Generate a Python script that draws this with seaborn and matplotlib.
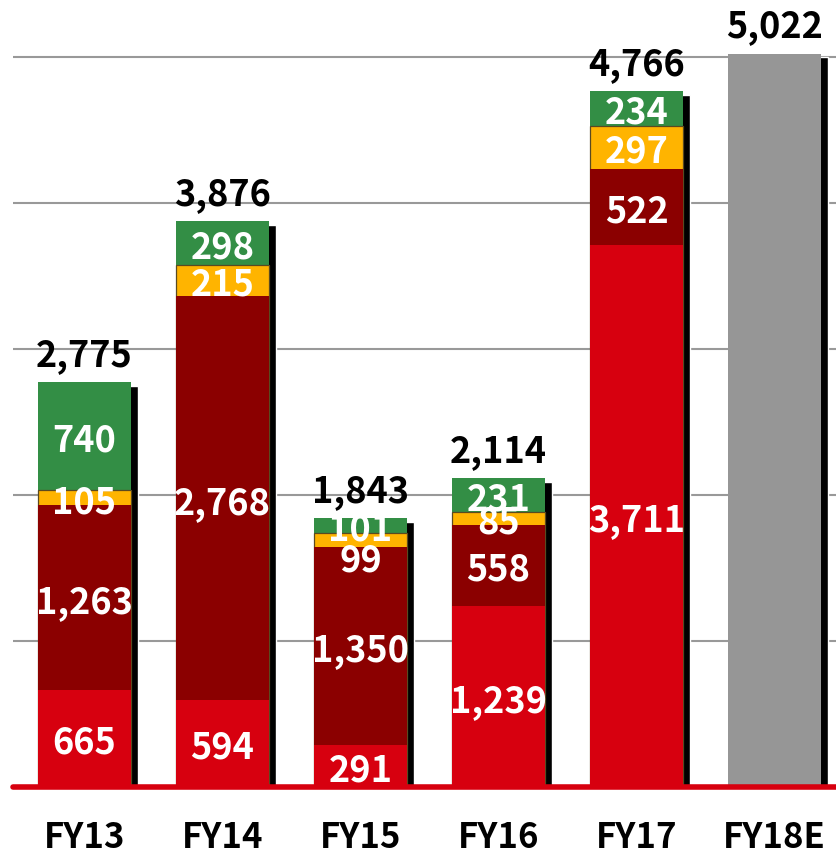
import numpy as np
import pandas as pd
import matplotlib
matplotlib.use('Agg')
import matplotlib.pyplot as plt
import seaborn as sns

# Values
years = ['FY13', 'FY14', 'FY15', 'FY16', 'FY17', 'FY18E']
seg_red = [665, 594, 291, 1239, 3711]
seg_darkred = [1263, 2768, 1350, 558, 522]
seg_orange = [105, 215, 99, 85, 297]
seg_green = [740, 298, 101, 231, 234]
totals = [2775, 3876, 1843, 2114, 4766, 5022]

colors = {'red': '#D7000F', 'darkred': '#8B0000', 'orange': '#FFB400',
          'green': '#338E45', 'gray': '#969696'}

sns.set_style('white')
plt.rcParams['font.family'] = ['Noto Sans CJK JP', 'DejaVu Sans']

df = pd.DataFrame({'year': years[:5], 'red': seg_red, 'darkred': seg_darkred,
                   'orange': seg_orange, 'green': seg_green})
df['c1'] = df['red']
df['c2'] = df['c1'] + df['darkred']
df['c3'] = df['c2'] + df['orange']
df['c4'] = df['c3'] + df['green']
tops = list(df['c4']) + [totals[5]]

fig = plt.figure(figsize=(8.37, 8.57), dpi=100)
ax = fig.add_axes([13 / 837, 70 / 857, 824 / 837, 787 / 857])

bw = 0.67
x = np.arange(len(years))
# black shadow behind each column
ax.bar(x + 0.055, np.array(tops) - 25, width=bw, color='black', zorder=1)

# stacked layers drawn as cumulative bars, tallest first
sns.barplot(data=df, x='year', y='c4', order=years, color=colors['green'], width=bw,
            saturation=1, linewidth=0, zorder=2, ax=ax)
sns.barplot(data=df, x='year', y='c3', order=years, color=colors['orange'], width=bw,
            saturation=1, linewidth=0.9, edgecolor='#5a4a20', zorder=2, ax=ax)
sns.barplot(data=df, x='year', y='c2', order=years, color=colors['darkred'], width=bw,
            saturation=1, linewidth=0, zorder=2, ax=ax)
sns.barplot(data=df, x='year', y='c1', order=years, color=colors['red'], width=bw,
            saturation=1, linewidth=0, zorder=2, ax=ax)
sns.barplot(x=[years[5]], y=[totals[5]], order=years, color=colors['gray'], width=bw,
            saturation=1, linewidth=0, zorder=2, ax=ax)

# segment labels
for i in range(5):
    bottoms = [0, df['c1'][i], df['c2'][i], df['c3'][i]]
    vals = [seg_red[i], seg_darkred[i], seg_orange[i], seg_green[i]]
    for j, (b, v) in enumerate(zip(bottoms, vals)):
        y = b + v / 2
        if years[i] == 'FY15' and j == 2:
            y -= 110   # pushed down in the original to clear the 101 label
        ax.annotate(f'{v:,}', (i, y), xytext=(0, -3.5), textcoords='offset points',
                    ha='center', va='center', color='white', fontsize=26,
                    fontweight='bold', zorder=5)

# totals above the bars
for i, t in enumerate(totals):
    ax.annotate(f'{t:,}', (i, tops[i]), xytext=(0, 6), textcoords='offset points',
                ha='center', va='bottom', fontsize=26, fontweight='bold', color='black')

ax.set_xlim(-0.518, 5.453)
ax.set_ylim(0, 5390)
ax.set_yticks([1000, 2000, 3000, 4000, 5000])
ax.set_yticklabels([])
ax.yaxis.grid(True, color='#999999', linewidth=1.5, zorder=0)
ax.set_axisbelow(True)
ax.axhline(0, color=colors['red'], linewidth=4, solid_capstyle='round', clip_on=False, zorder=4)
ax.tick_params(axis='both', length=0)
ax.tick_params(axis='x', pad=24, labelsize=25, labelcolor='black')
for lbl in ax.get_xticklabels():
    lbl.set_fontweight('bold')
ax.set_xlabel('')
ax.set_ylabel('')
sns.despine(ax=ax, left=True, bottom=True)

fig.savefig('out.png', dpi=100)
